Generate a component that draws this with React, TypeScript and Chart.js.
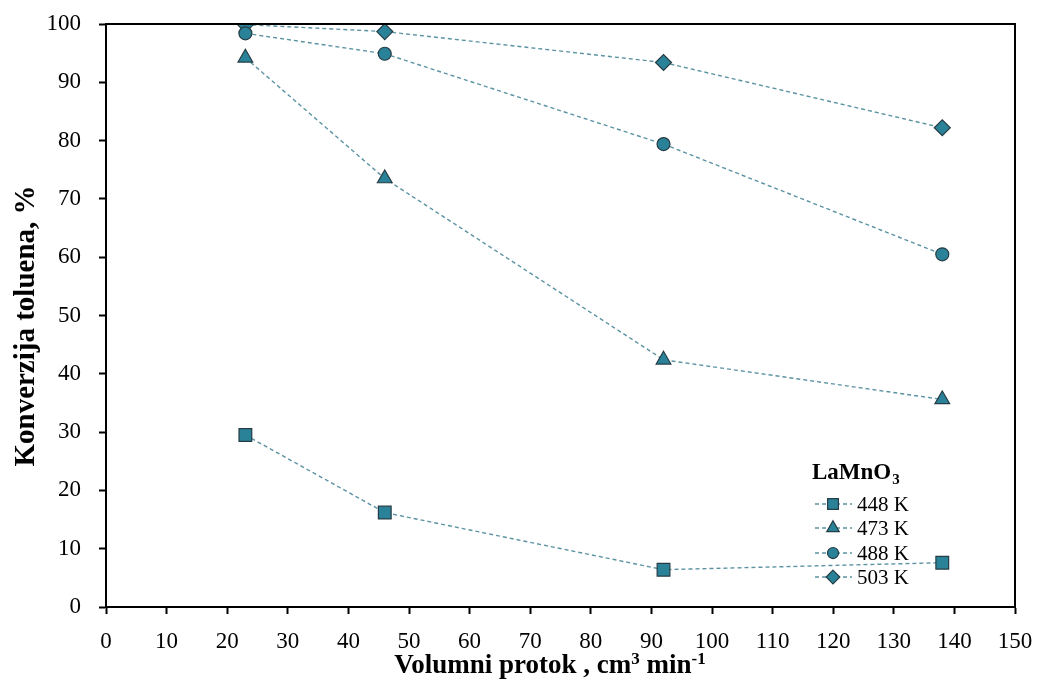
import React, { useEffect, useRef } from "react";
import { Chart, registerables } from "chart.js";

Chart.register(...registerables);

const flowRates = [23, 46, 92, 138];
const series448 = [29.5, 16.2, 6.4, 7.6];
const series473 = [94.2, 73.5, 42.4, 35.6];
const series488 = [98.4, 94.9, 79.4, 60.5];
const series503 = [99.9, 98.7, 93.4, 82.2];
const seriesLabels = ["448 K", "473 K", "488 K", "503 K"];
const pointStyles = ["rect", "triangle", "circle", "rectRot"];
const pointRadii = [9, 8.5, 6.5, 8];
const legendTitle = "LaMnO";
const legendTitleSub = "3";
const xTitleParts = [
  { t: "Volumni protok , cm", sup: false },
  { t: "3", sup: true },
  { t: " min", sup: false },
  { t: "-1", sup: true },
];
const yTitle = "Konverzija toluena, %";

const FILL = "#2a8299";
const EDGE = "#263c44";
const LINE = "#5b93a3";
const SERIF = "'Liberation Serif', 'Times New Roman', serif";

function drawMarker(ctx: CanvasRenderingContext2D, style: string, x: number, y: number, r: number) {
  ctx.beginPath();
  if (style === "rect") {
    const s = Math.SQRT1_2 * r;
    ctx.rect(x - s, y - s, 2 * s, 2 * s);
  } else if (style === "triangle") {
    ctx.moveTo(x, y - r);
    ctx.lineTo(x + r * Math.cos(Math.PI / 6), y + r / 2);
    ctx.lineTo(x - r * Math.cos(Math.PI / 6), y + r / 2);
    ctx.closePath();
  } else if (style === "circle") {
    ctx.arc(x, y, r, 0, Math.PI * 2);
  } else {
    ctx.moveTo(x, y - r);
    ctx.lineTo(x + r, y);
    ctx.lineTo(x, y + r);
    ctx.lineTo(x - r, y);
    ctx.closePath();
  }
  ctx.fillStyle = FILL;
  ctx.fill();
  ctx.lineWidth = 1.2;
  ctx.strokeStyle = EDGE;
  ctx.stroke();
}

const framePlugin = {
  id: "frame",
  afterDraw(chart: any) {
    const { ctx, chartArea } = chart;
    ctx.save();
    ctx.strokeStyle = "#000";
    ctx.lineWidth = 2;
    ctx.strokeRect(chartArea.left, chartArea.top, chartArea.right - chartArea.left, chartArea.bottom - chartArea.top);
    ctx.restore();
  },
};

const titlesPlugin = {
  id: "axisTitles",
  afterDraw(chart: any) {
    const { ctx } = chart;
    ctx.save();
    ctx.fillStyle = "#000";
    ctx.textBaseline = "alphabetic";
    const big = `bold 27px ${SERIF}`;
    const small = `bold 17px ${SERIF}`;
    let total = 0;
    xTitleParts.forEach((p) => {
      ctx.font = p.sup ? small : big;
      total += ctx.measureText(p.t).width;
    });
    let x = 550 - total / 2;
    const base = 673;
    xTitleParts.forEach((p) => {
      ctx.font = p.sup ? small : big;
      ctx.fillText(p.t, x, p.sup ? base - 9 : base);
      x += ctx.measureText(p.t).width;
    });
    ctx.translate(34, 326);
    ctx.rotate(-Math.PI / 2);
    ctx.font = `bold 29px ${SERIF}`;
    ctx.textAlign = "center";
    ctx.fillText(yTitle, 0, 0);
    ctx.restore();
  },
};

const legendPlugin = {
  id: "customLegend",
  afterDraw(chart: any) {
    const { ctx } = chart;
    ctx.save();
    ctx.fillStyle = "#000";
    ctx.textBaseline = "alphabetic";
    ctx.font = `bold 23px ${SERIF}`;
    ctx.fillText(legendTitle, 812, 479);
    const w = ctx.measureText(legendTitle).width;
    ctx.font = `bold 15px ${SERIF}`;
    ctx.fillText(legendTitleSub, 812 + w + 1, 484);
    const ys = [504, 528, 553, 577];
    chart.data.datasets.forEach((ds: any, i: number) => {
      const y = ys[i];
      ctx.save();
      ctx.setLineDash([4, 3]);
      ctx.strokeStyle = LINE;
      ctx.lineWidth = 1.4;
      ctx.beginPath();
      ctx.moveTo(815, y);
      ctx.lineTo(852, y);
      ctx.stroke();
      ctx.restore();
      drawMarker(ctx, pointStyles[i], 833, y, pointRadii[i] * 0.85);
      ctx.fillStyle = "#000";
      ctx.font = `21px ${SERIF}`;
      ctx.textBaseline = "middle";
      ctx.fillText(ds.label, 857, y + 1);
    });
    ctx.restore();
  },
};

export default function App() {
  const ref = useRef<HTMLCanvasElement | null>(null);
  useEffect(() => {
    if (!ref.current) return;
    const all = [series448, series473, series488, series503];
    const chart = new Chart(ref.current, {
      type: "line",
      data: {
        datasets: all.map((vals, i) => ({
          label: seriesLabels[i],
          data: flowRates.map((x, j) => ({ x, y: vals[j] })),
          borderColor: LINE,
          borderWidth: 1.4,
          borderDash: [4, 3],
          pointStyle: pointStyles[i] as any,
          pointRadius: pointRadii[i],
          pointBackgroundColor: FILL,
          pointBorderColor: EDGE,
          pointBorderWidth: 1.2,
          fill: false,
          tension: 0,
        })),
      },
      options: {
        animation: false,
        responsive: false,
        maintainAspectRatio: false,
        layout: { padding: { top: 24, right: 25, left: 0, bottom: 0 } },
        plugins: { legend: { display: false }, tooltip: { enabled: false } },
        scales: {
          x: {
            type: "linear",
            min: 0,
            max: 150,
            ticks: { stepSize: 10, color: "#000", font: { family: SERIF, size: 23 }, padding: 14, maxRotation: 0 },
            grid: { drawOnChartArea: false, drawTicks: true, tickLength: 7, tickColor: "#000", tickWidth: 2 },
            border: { display: true, color: "#000", width: 2 },
            title: { display: false },
            afterFit: (s: any) => {
              s.height = 81;
              s.paddingLeft = 0;
              s.paddingRight = 0;
            },
          },
          y: {
            type: "linear",
            min: 0,
            max: 100,
            ticks: { stepSize: 10, color: "#000", font: { family: SERIF, size: 23 }, padding: 18 },
            grid: { drawOnChartArea: false, drawTicks: true, tickLength: 7, tickColor: "#000", tickWidth: 2 },
            border: { display: true, color: "#000", width: 2 },
            title: { display: false },
            afterFit: (s: any) => {
              s.width = 106;
              s.paddingTop = 0;
              s.paddingBottom = 0;
            },
          },
        },
      },
      plugins: [framePlugin, titlesPlugin, legendPlugin],
    });
    return () => chart.destroy();
  }, []);
  return (
    <div style={{ position: "fixed", left: 0, top: 0, width: 1040, height: 688, background: "#fff" }}>
      <canvas ref={ref} width={1040} height={688} style={{ width: 1040, height: 688 }} />
    </div>
  );
}
